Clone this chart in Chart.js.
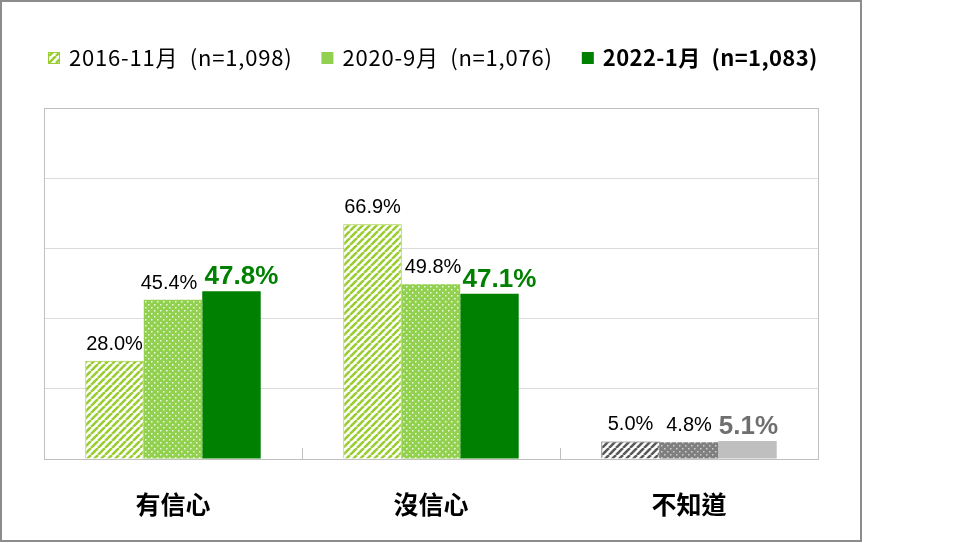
<!DOCTYPE html>
<html>
<head>
<meta charset="utf-8">
<script src="https://cdn.jsdelivr.net/npm/chart.js@4/dist/chart.umd.min.js"></script>
<style>
  html, body { margin: 0; background: #fff; }
</style>
</head>
<body>
<canvas id="chart" width="959" height="543"></canvas>
<script>
// 資料
const categories = ['有信心', '沒信心', '不知道'];
const seriesNames = ['2016-11月  (n=1,098)', '2020-9月  (n=1,076)', '2022-1月  (n=1,083)'];
const wave2016 = [28.0, 66.9, 5.0];
const wave2020 = [45.4, 49.8, 4.8];
const wave2022 = [47.8, 47.1, 5.1];
const yTicks = [0, 20, 40, 60, 80, 100];

const FONT = '"Noto Sans CJK TC", "Noto Sans", sans-serif';
const NUMFONT = '"Liberation Sans", Arial, sans-serif';

// 斜線圖樣
function stripes(fg, bg) {
  const s = 7;
  const c = document.createElement('canvas');
  c.width = c.height = s;
  const g = c.getContext('2d');
  g.fillStyle = bg;
  g.fillRect(0, 0, s, s);
  g.strokeStyle = fg;
  g.lineWidth = 2.6;
  g.beginPath();
  for (const o of [-s, 0, s]) { g.moveTo(o, s); g.lineTo(o + s, 0); }
  g.stroke();
  return g.createPattern(c, 'repeat');
}

// 點狀圖樣
function dots(bg, fg) {
  const s = 6;
  const c = document.createElement('canvas');
  c.width = c.height = s;
  const g = c.getContext('2d');
  g.fillStyle = bg;
  g.fillRect(0, 0, s, s);
  g.fillStyle = fg;
  g.fillRect(1, 1, 1.5, 1.5);
  g.fillRect(4, 4, 1.5, 1.5);
  return g.createPattern(c, 'repeat');
}

const fills = [
  [stripes('#9acd32', '#fff'), stripes('#9acd32', '#fff'), stripes('#5a5a5a', '#fff')],
  [dots('#92d050', '#eef9e2'), dots('#92d050', '#eef9e2'), dots('#7f7f7f', '#d0d0d0')],
  ['#008000', '#008000', '#bfbfbf']
];
const borders = [
  ['#9acd32', '#9acd32', '#5a5a5a'],
  ['#92d050', '#92d050', '#7f7f7f'],
  ['#008000', '#008000', '#bfbfbf']
];
const legendBoxes = [stripes('#9acd32', '#fff'), '#92d050', '#008000'];
const labelColors = [
  ['#000', '#000', '#000'],
  ['#000', '#000', '#000'],
  ['#008000', '#008000', '#6f6f6f']
];
// 標籤微調（x 偏移）
const labelShift = [[0, 0, 0], [-4, 2, 0], [10, 10, 1]];

const framePlugin = {
  id: 'frame',
  beforeDraw(chart) {
    const ctx = chart.ctx;
    ctx.save();
    ctx.fillStyle = '#fff';
    ctx.fillRect(0, 0, chart.width, chart.height);
    ctx.restore();
  },
  beforeDatasetsDraw(chart) {
    const ctx = chart.ctx;
    const a = chart.chartArea;
    const x = chart.scales.x;
    ctx.save();
    ctx.strokeStyle = '#bfbfbf';
    ctx.lineWidth = 1;
    ctx.strokeRect(Math.round(a.left) + 0.5, Math.round(a.top) + 0.5,
      Math.round(a.right - a.left), Math.round(a.bottom - a.top));
    // 類別分隔刻度
    const half = (x.getPixelForValue(1) - x.getPixelForValue(0)) / 2;
    ctx.beginPath();
    for (let i = 0; i < categories.length - 1; i++) {
      const px = Math.round(x.getPixelForValue(i) + half) + 0.5;
      ctx.moveTo(px, a.bottom - 11);
      ctx.lineTo(px, a.bottom);
    }
    ctx.stroke();
    ctx.restore();
  },
  afterDatasetsDraw(chart) {
    const ctx = chart.ctx;
    ctx.save();
    ctx.textAlign = 'center';
    ctx.textBaseline = 'alphabetic';
    chart.data.datasets.forEach((ds, di) => {
      chart.getDatasetMeta(di).data.forEach((el, i) => {
        const bold = di === 2;
        ctx.font = bold ? 'bold 26px ' + NUMFONT : '20px ' + NUMFONT;
        ctx.fillStyle = labelColors[di][i];
        ctx.fillText(ds.data[i].toFixed(1) + '%', el.x + labelShift[di][i], el.y - (bold ? 7 : 11));
      });
    });
    ctx.restore();
  },
  afterDraw(chart) {
    const ctx = chart.ctx;
    ctx.save();
    // 外框
    ctx.strokeStyle = '#8c8c8c';
    ctx.lineWidth = 2;
    ctx.strokeRect(1, 1, 860, 540);
    // 圖例
    let lx = 48;
    const ly = 58;
    ctx.textBaseline = 'middle';
    ctx.textAlign = 'left';
    seriesNames.forEach((name, i) => {
      ctx.fillStyle = legendBoxes[i];
      ctx.fillRect(lx, ly - 6, 12, 12);
      if (i === 0) {
        ctx.strokeStyle = '#9acd32';
        ctx.lineWidth = 1;
        ctx.strokeRect(lx + 0.5, ly - 5.5, 11, 11);
      }
      ctx.letterSpacing = i === 2 ? '0.4px' : '0.8px';
      ctx.font = (i === 2 ? 'bold ' : '') + '22px ' + FONT;
      ctx.fillStyle = '#000';
      ctx.fillText(name, lx + 21, ly);
      lx += 21 + ctx.measureText(name).width + 29;
    });
    ctx.restore();
  }
};

new Chart(document.getElementById('chart'), {
  type: 'bar',
  data: {
    labels: categories,
    datasets: [
      { label: seriesNames[0], data: wave2016, backgroundColor: fills[0], borderColor: borders[0], borderWidth: 1 },
      { label: seriesNames[1], data: wave2020, backgroundColor: fills[1], borderColor: borders[1], borderWidth: 0 },
      { label: seriesNames[2], data: wave2022, backgroundColor: fills[2], borderColor: borders[2], borderWidth: 0 }
    ]
  },
  options: {
    responsive: false,
    animation: false,
    events: [],
    categoryPercentage: 0.68,
    barPercentage: 1,
    layout: { padding: { top: 108, left: 44, right: 141, bottom: 0 } },
    plugins: { legend: { display: false }, tooltip: { enabled: false } },
    scales: {
      x: {
        grid: { display: false },
        border: { display: false },
        afterFit: s => { s.height = 84; },
        ticks: { color: '#000', padding: 22, font: { family: FONT, size: 25, weight: 'bold' } }
      },
      y: {
        min: 0,
        max: 100,
        afterBuildTicks: s => { s.ticks = yTicks.map(v => ({ value: v })); },
        afterFit: s => { s.width = 0; },
        ticks: { display: false },
        border: { display: false },
        grid: { color: '#dcdcdc', drawTicks: false }
      }
    }
  },
  plugins: [framePlugin]
});
</script>
</body>
</html>
